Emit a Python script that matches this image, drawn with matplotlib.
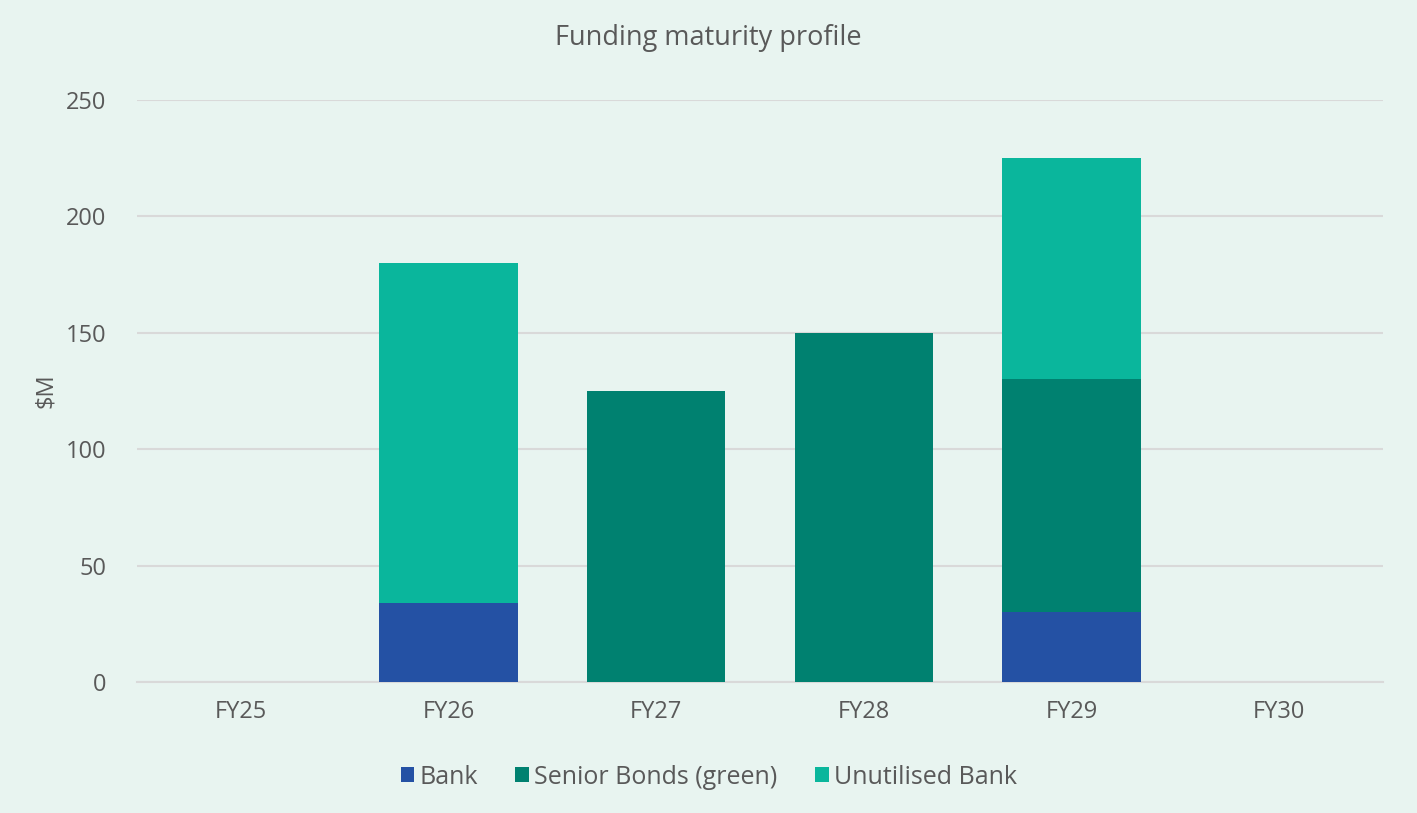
import numpy as np
import matplotlib.pyplot as plt

years = ['FY25', 'FY26', 'FY27', 'FY28', 'FY29', 'FY30']
bank = [0, 34, 0, 0, 30, 0]
senior_bonds = [0, 0, 125, 150, 100, 0]
unutilised = [0, 146, 0, 0, 95, 0]

bg = '#E8F4F0'
txt = '#595959'
plt.rcParams['font.family'] = ['Open Sans', 'DejaVu Sans']

fig = plt.figure(figsize=(14.17, 8.13), dpi=100, facecolor=bg)
ax = fig.add_axes([0.0967, 0.161, 0.8793, 0.716])
ax.set_facecolor(bg)

x = np.arange(len(years))
w = 0.665
b1 = np.array(bank)
b2 = b1 + np.array(senior_bonds)
ax.bar(x, bank, w, color='#2451A4', label='Bank', zorder=3)
ax.bar(x, senior_bonds, w, bottom=b1, color='#008170', label='Senior Bonds (green)', zorder=3)
ax.bar(x, unutilised, w, bottom=b2, color='#0AB69C', label='Unutilised Bank', zorder=3)

ax.set_xlim(-0.5, len(years) - 0.5)
ax.set_ylim(0, 250)
ax.set_yticks(range(0, 251, 50))
ax.set_xticks(x)
ax.set_xticklabels(years)
ax.grid(axis='y', color='#D9D9D9', linewidth=1.5, zorder=0)
for s in ['top', 'right', 'left']:
    ax.spines[s].set_visible(False)
ax.spines['bottom'].set_color('#D9D9D9')
ax.spines['bottom'].set_linewidth(1.5)
ax.tick_params(axis='both', length=0, labelsize=17, colors=txt)
ax.tick_params(axis='y', pad=22)
ax.tick_params(axis='x', pad=13)
ax.set_ylabel('$M', fontsize=17, color=txt, labelpad=6)

fig.text(0.5, 0.953, 'Funding maturity profile', ha='center', va='center', fontsize=19.5, color=txt)
fig.legend(loc='center', bbox_to_anchor=(0.5, 0.044), ncol=3, frameon=False, fontsize=18,
           labelcolor=txt, handlelength=0.55, handleheight=0.55, handletextpad=0.2, columnspacing=1.5)

fig.savefig('out.png', dpi=100, facecolor=bg)
